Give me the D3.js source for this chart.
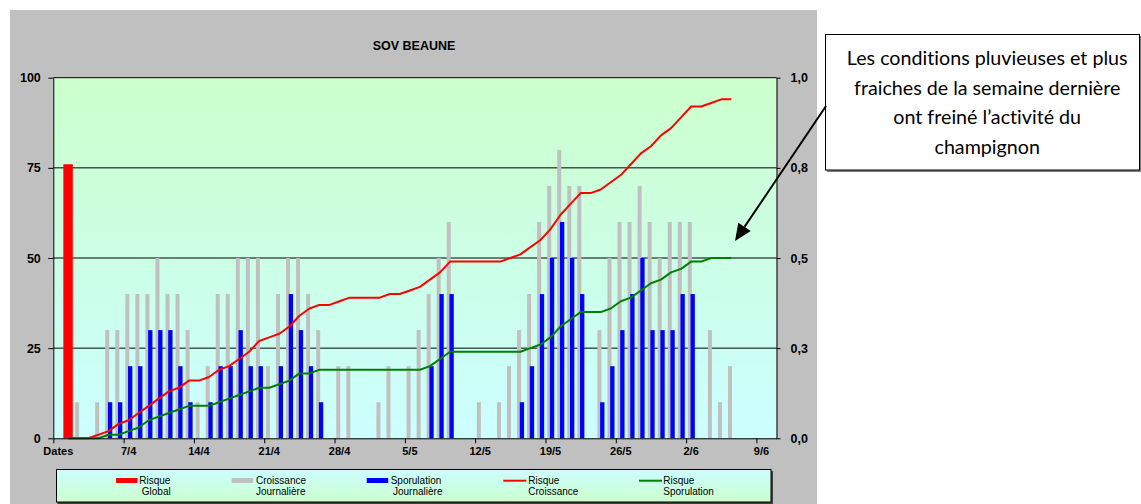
<!DOCTYPE html>
<html><head><meta charset="utf-8">
<script src="https://cdn.jsdelivr.net/npm/d3@7"></script>
<style>body{margin:0;background:#fff}svg{display:block}.note{font-variant-ligatures:none;font-feature-settings:"liga" 0,"clig" 0}</style></head>
<body>
<svg id="c" width="1141" height="504"></svg>
<script>
// ---------- data ----------
const chartTitle = "SOV BEAUNE";
const nCategories = 72;                       // category 0 = "Dates", 1 = 1/4 ...
const xTickLabels = ["Dates","7/4","14/4","21/4","28/4","5/5","12/5","19/5","26/5","2/6","9/6"];
const leftTicks = [0,25,50,75,100];
const rightTicks = [0,0.25,0.5,0.75,1];
const rightTickLabels = ["0,0","0,3","0,5","0,8","1,0"];
const firstDay = 1;
// Risque global (left axis)
const risqueGlobal = [[1,76]];
// daily values, days 1..67 (left axis, 0-100)
const croissanceJournaliere = [0,10,0,10,30,30,40,40,40,50,
  40,40,30,10,20,40,40,50,50,50,
  20,40,50,50,40,30,0,20,20,0,
  0,10,20,0,20,30,40,50,60,0,
  0,10,0,10,20,30,40,60,70,80,
  70,70,0,30,50,60,60,70,60,50,
  60,60,60,0,30,10,20];
const sporulationJournaliere = [0,0,0,0,10,10,20,20,30,30,
  30,20,10,0,10,20,20,30,20,20,
  0,20,40,30,20,10,0,0,0,0,
  0,0,0,0,0,0,20,40,40,0,
  0,0,0,0,0,10,20,40,50,60,
  50,40,0,10,20,30,40,50,30,30,
  30,40,40,0,0,0,0];
// cumulative risks, days 1..67 (right axis, 0-1)
const risqueCroissance = [0,0,0,.01,.02,.04,.05,.07,.09,.11,
  .13,.14,.16,.16,.17,.19,.20,.22,.24,.27,
  .28,.29,.31,.34,.36,.37,.37,.38,.39,.39,
  .39,.39,.40,.40,.41,.42,.44,.46,.49,.49,
  .49,.49,.49,.49,.50,.51,.53,.55,.58,.62,
  .65,.68,.68,.69,.71,.73,.76,.79,.81,.84,
  .86,.89,.92,.92,.93,.94,.94];
const risqueSporulation = [0,0,0,0,.01,.01,.02,.03,.05,.06,
  .07,.08,.09,.09,.09,.10,.11,.12,.13,.14,
  .14,.15,.16,.18,.18,.19,.19,.19,.19,.19,
  .19,.19,.19,.19,.19,.19,.20,.22,.24,.24,
  .24,.24,.24,.24,.24,.24,.25,.26,.28,.31,
  .33,.35,.35,.35,.36,.38,.39,.41,.43,.44,
  .46,.47,.49,.49,.50,.50,.50];
const legendLabels = [["Risque","Global"],["Croissance","Journalière"],["Sporulation","Journalière"],["Risque","Croissance"],["Risque","Sporulation"]];
const noteLines = ["Les conditions pluvieuses et plus","fraiches de la semaine dernière","ont freiné l’activité du","champignon"];

// ---------- layout ----------
const svg = d3.select("#c");
const L = 53.3, R = 776.5, T = 77.7, B = 438.3;
const x = d3.scaleLinear().domain([0,nCategories]).range([L,R]);
const bw = x(1)-x(0);
const yL = d3.scaleLinear().domain([0,100]).range([B,T]);
const yR = d3.scaleLinear().domain([0,1]).range([B,T]);
const axisFont = "'Liberation Sans', Arial, sans-serif";

const defs = svg.append("defs");
const g1 = defs.append("linearGradient").attr("id","plotBg").attr("x1",0).attr("y1",0).attr("x2",0).attr("y2",1);
g1.append("stop").attr("offset","0%").attr("stop-color","#ccffcc");
g1.append("stop").attr("offset","100%").attr("stop-color","#ccffff");
const g2 = defs.append("linearGradient").attr("id","legBg").attr("x1",0).attr("y1",0).attr("x2",0).attr("y2",1);
g2.append("stop").attr("offset","0%").attr("stop-color","#ccffff");
g2.append("stop").attr("offset","100%").attr("stop-color","#ccffcc");

// chart area background
svg.append("rect").attr("x",10).attr("y",10).attr("width",807).attr("height",494).attr("fill","#c0c0c0");
svg.append("rect").attr("x",L).attr("y",T).attr("width",R-L).attr("height",B-T).attr("fill","url(#plotBg)");

// gridlines
svg.append("g").selectAll("line").data(leftTicks.filter(d=>d>0)).join("line")
  .attr("x1",L).attr("x2",R).attr("y1",d=>yL(d)).attr("y2",d=>yL(d))
  .attr("stroke","#000").attr("stroke-width",1);

// title
svg.append("text").attr("x",414).attr("y",49.5).attr("text-anchor","middle")
  .attr("font-family",axisFont).attr("font-weight","bold").attr("font-size",12.5).text(chartTitle);

// bars: gray (croissance), blue (sporulation), red (global)
const days = croissanceJournaliere.map((v,i)=>({day:i+firstDay, c:v, s:sporulationJournaliere[i], rc:risqueCroissance[i], rs:risqueSporulation[i]}));
svg.append("g").selectAll("rect").data(days.filter(d=>d.c>0)).join("rect")
  .attr("x",d=>x(d.day)+0.17*bw).attr("width",0.4*bw)
  .attr("y",d=>yL(d.c)).attr("height",d=>yL(0)-yL(d.c)).attr("fill","#c0c0c0");
svg.append("g").selectAll("rect").data(days.filter(d=>d.s>0)).join("rect")
  .attr("x",d=>x(d.day)+0.44*bw).attr("width",0.43*bw)
  .attr("y",d=>yL(d.s)).attr("height",d=>yL(0)-yL(d.s)).attr("fill","#0000ff");
svg.append("g").selectAll("rect").data(risqueGlobal).join("rect")
  .attr("x",d=>x(d[0])).attr("width",0.94*bw)
  .attr("y",d=>yL(d[1])).attr("height",d=>yL(0)-yL(d[1])).attr("fill","#ff0000");

// lines
const lineC = d3.line().x(d=>x(d.day+0.5)).y(d=>yR(d.rc));
const lineS = d3.line().x(d=>x(d.day+0.5)).y(d=>yR(d.rs));
svg.append("path").datum(days).attr("d",lineC).attr("fill","none").attr("stroke","#ff0000").attr("stroke-width",2).attr("stroke-linejoin","round");
svg.append("path").datum(days).attr("d",lineS).attr("fill","none").attr("stroke","#008000").attr("stroke-width",2).attr("stroke-linejoin","round");

// axes
function styleAxis(g, size){
  g.selectAll("text").attr("font-family",axisFont).attr("font-weight","bold").attr("font-size",size).attr("fill","#000");
  g.selectAll("line,path").attr("stroke","#000");
}
const ax1 = svg.append("g").attr("transform",`translate(${L},0)`)
  .call(d3.axisLeft(yL).tickValues(leftTicks).tickSize(5).tickSizeOuter(0).tickPadding(7.5));
styleAxis(ax1,12.5);
const ax2 = svg.append("g").attr("transform",`translate(${R},0)`)
  .call(d3.axisRight(yR).tickValues(rightTicks).tickFormat((d,i)=>rightTickLabels[i]).tickSize(4).tickSizeOuter(0).tickPadding(10));
styleAxis(ax2,12.5);
const tickCats = xTickLabels.map((t,i)=>i*7);
const ax3 = svg.append("g").attr("transform",`translate(0,${B})`)
  .call(d3.axisBottom(x).tickValues(tickCats).tickFormat("").tickSize(5).tickSizeOuter(0));
styleAxis(ax3,11);
svg.append("g").selectAll("text").data(xTickLabels).join("text")
  .attr("x",(d,i)=>x(tickCats[i]+0.5)).attr("y",455)
  .attr("text-anchor","middle").attr("font-family",axisFont).attr("font-weight","bold").attr("font-size",11).text(d=>d);

// legend
svg.append("rect").attr("x",57.5).attr("y",471).attr("width",715.5).attr("height",33).attr("fill","#404040");
svg.append("rect").attr("x",56.5).attr("y",469.5).attr("width",714.5).attr("height",32.5).attr("fill","url(#legBg)").attr("stroke","#000").attr("stroke-width",1);
const legSw = [116,231.7,366.7,503.3,639];
const legTx = [139.3,256,390.7,528.3,663.3];
const legType = [["bar","#ff0000"],["bar","#c0c0c0"],["bar","#0000ff"],["line","#ff0000"],["line","#008000"]];
const lg = svg.append("g").selectAll("g").data(legendLabels).join("g");
lg.each(function(d,i){
  const s = d3.select(this);
  if(legType[i][0]==="bar") s.append("rect").attr("x",legSw[i]).attr("y",478).attr("width",21.5).attr("height",5).attr("fill",legType[i][1]);
  else s.append("line").attr("x1",legSw[i]).attr("x2",legSw[i]+23).attr("y1",480.7).attr("y2",480.7).attr("stroke",legType[i][1]).attr("stroke-width",2);
  s.append("text").attr("x",legTx[i]).attr("y",484.3).attr("font-family",axisFont).attr("font-size",10).text(d[0]);
  s.append("text").attr("x",legTx[i]+(i===0?2.5:i===2?2.3:0)).attr("y",495.3).attr("font-family",axisFont).attr("font-size",10).text(d[1]);
});

// annotation box
svg.append("rect").attr("x",827).attr("y",36).attr("width",314).attr("height",136).attr("fill","#808080");
svg.append("rect").attr("x",825.5).attr("y",34.5).attr("width",314).attr("height",135.5).attr("fill","#fff").attr("stroke","#000");
const nt = svg.append("g").selectAll("text").data(noteLines).join("text")
  .attr("class","note")
  .attr("x",987.2).attr("y",(d,i)=>65+i*29.7).attr("text-anchor","middle")
  .attr("font-family","Lato, 'Open Sans', sans-serif").attr("font-size",16).attr("fill","#000").text(d=>d);
// fit first line width to ~281px
const w0 = nt.nodes()[0].getComputedTextLength();
nt.attr("font-size",16*281/w0);

// arrow
const p0 = [826,106], tip = [735,241];
const dx = tip[0]-p0[0], dy = tip[1]-p0[1], len = Math.hypot(dx,dy);
const u = [dx/len, dy/len], n = [-u[1], u[0]];
const hl = 17, hw = 7.5;
const base = [tip[0]-hl*u[0], tip[1]-hl*u[1]];
svg.append("line").attr("x1",p0[0]).attr("y1",p0[1]).attr("x2",base[0]).attr("y2",base[1]).attr("stroke","#000").attr("stroke-width",2);
svg.append("path").attr("d",`M${tip}L${base[0]+hw*n[0]},${base[1]+hw*n[1]}L${base[0]-hw*n[0]},${base[1]-hw*n[1]}Z`).attr("fill","#000");
</script>
</body></html>
